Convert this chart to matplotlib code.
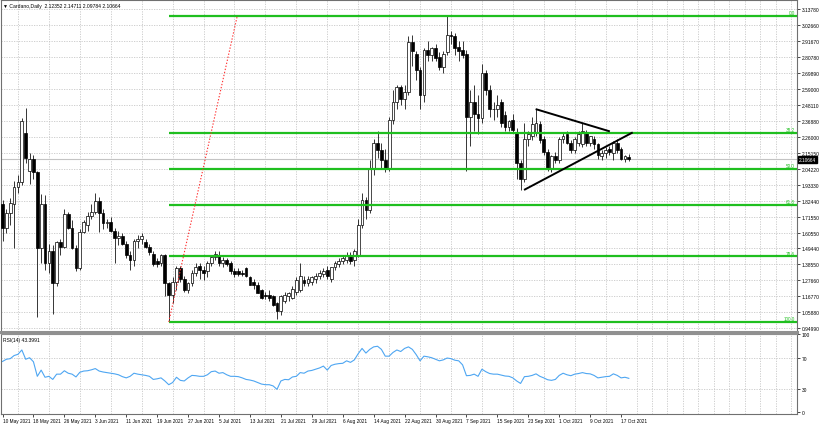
import numpy as np
import pandas as pd
import matplotlib
matplotlib.use('Agg')
import matplotlib.pyplot as plt
import matplotlib.transforms as mtransforms

# ---- data ----
dates = pd.date_range('2021-05-10', periods=163, freq='D')

opens = [1.80, 1.64, 1.74, 1.80, 1.92, 1.95, 2.29, 2.03, 2.11, 2.02,
         1.50, 1.80, 1.40, 1.48, 1.26, 1.54, 1.51, 1.73, 1.64, 1.50,
         1.36, 1.61, 1.66, 1.72, 1.75, 1.82, 1.74, 1.67, 1.68, 1.62,
         1.57, 1.58, 1.53, 1.45, 1.42, 1.55, 1.56, 1.54, 1.51, 1.46,
         1.41, 1.40, 1.45, 1.26, 1.18, 1.27, 1.36, 1.29, 1.21, 1.26,
         1.33, 1.38, 1.35, 1.34, 1.40, 1.44, 1.45, 1.40, 1.42, 1.40,
         1.34, 1.34, 1.33, 1.36, 1.30, 1.27, 1.25, 1.21, 1.18, 1.18,
         1.17, 1.12, 1.07, 1.14, 1.17, 1.16, 1.20, 1.21, 1.28, 1.26,
         1.27, 1.29, 1.31, 1.32, 1.35, 1.29, 1.37, 1.39, 1.41, 1.42,
         1.45, 1.42, 1.45, 1.66, 1.83, 1.76, 2.05, 2.22, 2.17, 2.10,
         2.05, 2.38, 2.50, 2.60, 2.52, 2.57, 2.91, 2.83, 2.72, 2.55,
         2.86, 2.82, 2.87, 2.81, 2.74, 2.84, 2.96, 2.95, 2.88, 2.86,
         2.83, 2.40, 2.50, 2.42, 2.39, 2.70, 2.58, 2.45, 2.45, 2.50,
         2.41, 2.33, 2.38, 2.29, 2.08, 1.97, 2.25, 2.27, 2.29, 2.35,
         2.25, 2.16, 2.04, 2.13, 2.10, 2.25, 2.28, 2.22, 2.17, 2.22,
         2.21, 2.29, 2.22, 2.25, 2.21, 2.13, 2.15, 2.18, 2.15, 2.22,
         2.18, 2.11, 2.12352]
highs = [1.83, 1.77, 1.84, 1.96, 2.00, 2.39, 2.46, 2.15, 2.14, 2.03,
         1.87, 1.86, 1.53, 1.52, 1.55, 1.56, 1.77, 1.75, 1.69, 1.52,
         1.63, 1.69, 1.75, 1.80, 1.88, 1.85, 1.77, 1.70, 1.71, 1.64,
         1.62, 1.60, 1.55, 1.48, 1.56, 1.59, 1.60, 1.56, 1.53, 1.48,
         1.43, 1.46, 1.46, 1.27, 1.30, 1.38, 1.38, 1.31, 1.27, 1.35,
         1.40, 1.40, 1.38, 1.41, 1.45, 1.48, 1.48, 1.44, 1.43, 1.41,
         1.36, 1.36, 1.35, 1.37, 1.31, 1.29, 1.27, 1.22, 1.20, 1.21,
         1.18, 1.13, 1.18, 1.20, 1.20, 1.24, 1.30, 1.40, 1.31, 1.31,
         1.31, 1.33, 1.35, 1.36, 1.38, 1.37, 1.41, 1.43, 1.45, 1.47,
         1.47, 1.49, 1.70, 1.88, 1.85, 2.10, 2.25, 2.30, 2.22, 2.18,
         2.40, 2.58, 2.62, 2.62, 2.62, 2.95, 2.96, 2.85, 2.74, 2.87,
         2.92, 2.88, 2.90, 2.84, 2.85, 3.10, 2.99, 2.97, 2.92, 2.92,
         2.86, 2.58, 2.62, 2.55, 2.76, 2.72, 2.62, 2.50, 2.55, 2.52,
         2.44, 2.38, 2.42, 2.32, 2.10, 2.36, 2.30, 2.40, 2.45, 2.37,
         2.27, 2.18, 2.14, 2.16, 2.26, 2.29, 2.30, 2.24, 2.26, 2.30,
         2.36, 2.31, 2.27, 2.27, 2.22, 2.17, 2.19, 2.20, 2.23, 2.25,
         2.19, 2.14, 2.14711]
lows = [1.55, 1.60, 1.66, 1.50, 1.88, 1.93, 2.08, 1.94, 1.97, 1.03,
        1.40, 1.35, 1.33, 1.05, 1.24, 1.45, 1.50, 1.63, 1.49, 1.34,
        1.35, 1.60, 1.62, 1.70, 1.73, 1.61, 1.63, 1.64, 1.61, 1.40,
        1.52, 1.52, 1.43, 1.35, 1.38, 1.50, 1.53, 1.50, 1.45, 1.38,
        1.37, 1.38, 1.17, 1.00, 1.12, 1.21, 1.27, 1.20, 1.19, 1.24,
        1.31, 1.29, 1.28, 1.30, 1.38, 1.42, 1.38, 1.37, 1.38, 1.32,
        1.30, 1.31, 1.31, 1.30, 1.25, 1.22, 1.19, 1.15, 1.15, 1.14,
        1.10, 1.016, 1.04, 1.12, 1.14, 1.15, 1.18, 1.20, 1.24, 1.24,
        1.25, 1.26, 1.29, 1.30, 1.29, 1.27, 1.35, 1.37, 1.39, 1.40,
        1.39, 1.38, 1.44, 1.64, 1.70, 1.74, 2.00, 2.12, 2.05, 2.02,
        2.03, 2.35, 2.45, 2.48, 2.45, 2.55, 2.75, 2.65, 2.45, 2.50,
        2.78, 2.78, 2.78, 2.72, 2.70, 2.82, 2.90, 2.82, 2.78, 2.80,
        2.03, 2.20, 2.30, 2.28, 2.36, 2.55, 2.40, 2.38, 2.40, 2.33,
        2.30, 2.30, 2.29, 1.97, 1.90, 1.95, 2.20, 2.24, 2.27, 2.22,
        2.14, 2.03, 2.02, 2.08, 2.08, 2.22, 2.21, 2.15, 2.15, 2.20,
        2.19, 2.20, 2.20, 2.18, 2.11, 2.10, 2.12, 2.14, 2.10, 2.15,
        2.10, 2.09, 2.09784]
closes = [1.64, 1.74, 1.81, 1.92, 1.95, 2.37, 2.12, 2.11, 2.02, 1.50,
          1.80, 1.40, 1.48, 1.26, 1.54, 1.51, 1.73, 1.64, 1.50, 1.36,
          1.61, 1.68, 1.72, 1.75, 1.82, 1.74, 1.67, 1.68, 1.62, 1.57,
          1.58, 1.53, 1.45, 1.42, 1.55, 1.56, 1.58, 1.51, 1.47, 1.39,
          1.39, 1.45, 1.26, 1.18, 1.27, 1.36, 1.29, 1.21, 1.26, 1.33,
          1.37, 1.35, 1.33, 1.40, 1.44, 1.46, 1.40, 1.42, 1.39, 1.34,
          1.32, 1.32, 1.32, 1.31, 1.25, 1.25, 1.19, 1.16, 1.17, 1.16,
          1.11, 1.07, 1.17, 1.18, 1.19, 1.22, 1.28, 1.31, 1.26, 1.29,
          1.30, 1.31, 1.33, 1.34, 1.31, 1.37, 1.40, 1.41, 1.43, 1.45,
          1.41, 1.48, 1.66, 1.83, 1.76, 2.05, 2.22, 2.17, 2.10, 2.05,
          2.38, 2.50, 2.60, 2.52, 2.57, 2.91, 2.85, 2.72, 2.55, 2.86,
          2.82, 2.87, 2.80, 2.74, 2.83, 2.96, 2.95, 2.87, 2.85, 2.82,
          2.40, 2.50, 2.42, 2.39, 2.70, 2.58, 2.45, 2.45, 2.48, 2.36,
          2.33, 2.37, 2.31, 2.08, 1.97, 2.25, 2.28, 2.35, 2.36, 2.24,
          2.16, 2.04, 2.13, 2.10, 2.25, 2.27, 2.22, 2.17, 2.25, 2.28,
          2.30, 2.22, 2.27, 2.21, 2.14, 2.15, 2.17, 2.16, 2.22, 2.17,
          2.11, 2.13, 2.10664]

rsi = [65.2, 68.0, 68.8, 72.8, 74.4, 80.0, 68.0, 70.0, 64.8, 46.0,
       54.0, 44.8, 46.0, 42.0, 48.8, 48.8, 53.2, 50.0, 48.8, 45.2,
       51.2, 52.8, 53.2, 54.4, 56.0, 52.8, 51.6, 50.8, 50.0, 49.2,
       48.0, 45.6, 44.0, 46.0, 50.0, 48.8, 48.0, 47.2, 46.0, 42.0,
       42.8, 44.0, 40.0, 35.2, 38.0, 44.8, 40.8, 40.0, 44.0, 47.2,
       46.8, 46.0, 46.0, 48.0, 52.0, 52.8, 50.0, 50.8, 48.0, 46.0,
       46.0, 45.6, 44.0, 42.0, 41.2, 40.0, 38.0, 36.0, 35.2, 35.2,
       33.6, 29.2, 40.0, 42.0, 41.6, 45.2, 46.0, 50.8, 50.0, 52.8,
       53.6, 55.2, 56.8, 59.2, 54.0, 60.0, 61.6, 62.4, 62.8, 66.0,
       64.0, 67.2, 75.2, 82.0, 76.0, 80.8, 84.0, 84.8, 80.8, 72.0,
       72.0, 76.8, 80.0, 78.0, 82.0, 84.0, 80.8, 74.0, 66.0, 72.0,
       71.2, 70.0, 68.0, 66.0, 67.2, 69.6, 68.8, 66.8, 66.0, 60.8,
       46.8, 47.2, 48.8, 46.0, 55.2, 52.0, 49.6, 48.8, 48.8, 47.6,
       46.4, 46.0, 44.0, 40.0, 36.8, 45.6, 46.0, 47.2, 49.2, 46.0,
       44.0, 41.6, 40.8, 42.0, 47.2, 50.0, 48.0, 46.8, 48.8, 49.6,
       50.8, 49.6, 49.2, 47.2, 44.0, 44.8, 45.6, 46.0, 49.2, 47.2,
       44.0, 44.8, 43.4]

price_ticks = ['0.94990', '1.05880', '1.16770', '1.27660', '1.38550', '1.49440',
               '1.60550', '1.71550', '1.82440', '1.93330', '2.04220', '2.15150',
               '2.26000', '2.36880', '2.48110', '2.59000', '2.69890', '2.80780',
               '2.91670', '3.02660', '3.13780']

fib_names = ['0.0', '38.2', '50.0', '61.8', '78.6', '100.0']
fib_values = [3.088, 2.289, 2.040, 1.794, 1.442, 0.993]
fib_start = 43

# fib anchor line (low -> high) and triangle trend lines: (day, price)
fib_anchor = [(43, 0.993), (60.7, 3.088)]
tri_upper = [(137.9, 2.452), (157.1, 2.299)]
tri_lower = [(134.9, 1.898), (163.0, 2.292)]

last_price = 2.10664

# ---- figure ----
W, H = 820, 427
fig = plt.figure(figsize=(W / 100, H / 100), dpi=100)
plt.rcParams['font.family'] = ['Liberation Sans', 'DejaVu Sans']


def box(x0, y0, x1, y1):
    return [x0 / W, 1 - y1 / H, (x1 - x0) / W, (y1 - y0) / H]


ax = fig.add_axes(box(1, 1, 797, 333))
axr = fig.add_axes(box(1, 335, 797, 415), sharex=ax)

x = np.arange(len(dates))
grid_kw = dict(color='#c8c8c8', linestyle=(0, (1.5, 1.5)), linewidth=0.6)

for a in (ax, axr):
    a.set_xlim(-0.39, 205.5)
    a.set_xticks(np.arange(0, 206, 4), minor=True)
    a.grid(True, which='minor', axis='x', **grid_kw)
    a.yaxis.tick_right()
    a.tick_params(axis='y', which='both', labelsize=3.5, length=2, width=0.5,
                  pad=1.2, colors='black')
    for s in a.spines.values():
        s.set_color('#707070')
        s.set_linewidth(0.8)
    a.set_axisbelow(True)

# price panel
ax.set_ylim(0.9246, 3.1995)
tick_pos = np.linspace(0.9499, 3.1378, len(price_ticks))
ax.set_yticks(tick_pos)
ax.set_yticklabels(price_ticks)
for tp in tick_pos:
    ax.axhline(tp, zorder=0, **grid_kw)
ax.tick_params(axis='x', which='both', bottom=False, labelbottom=False)
ax.spines['bottom'].set_linewidth(2.2)
ax.spines['bottom'].set_color('#909090')

ax.axhline(last_price, color='#c4c4c4', linewidth=0.8, zorder=1)

o = np.array(opens)
c = np.array(closes)
up = c >= o
ax.vlines(x, lows, highs, color='black', linewidth=0.55, zorder=3)
ax.bar(x[up], (c - o)[up], bottom=o[up], width=0.72, color='white',
       edgecolor='black', linewidth=0.5, zorder=4)
ax.bar(x[~up], (c - o)[~up], bottom=o[~up], width=0.72, color='black',
       edgecolor='black', linewidth=0.5, zorder=4)

# fibonacci levels
xmax = ax.get_xlim()[1]
for name, lvl in zip(fib_names, fib_values):
    ax.hlines(lvl, fib_start, xmax, color='#1fbf1f', linewidth=1.6, zorder=5)
    ax.text(xmax - 0.6, lvl + 0.006, name, color='#1fbf1f', fontsize=3.3,
            ha='right', va='bottom', zorder=6)
ax.plot([p[0] for p in fib_anchor], [p[1] for p in fib_anchor],
        color='#ff3030', linestyle=(0, (1.2, 1.6)), linewidth=0.8, zorder=5)

# triangle
for seg in (tri_upper, tri_lower):
    ax.plot([p[0] for p in seg], [p[1] for p in seg], color='black',
            linewidth=1.4, zorder=6, solid_capstyle='butt')

ax.text(0.002, 0.992, '\u25bc Cardano,Daily  2.12352 2.14711 2.09784 2.10664',
        transform=ax.transAxes, fontsize=3.6, va='top', ha='left')

# last price tag on the axis
tr = mtransforms.blended_transform_factory(ax.transAxes, ax.transData)
ax.text(1.002, last_price, '2.10664', transform=tr, fontsize=3.4, color='white',
        va='center', ha='left', clip_on=False, zorder=10,
        bbox=dict(boxstyle='square,pad=0.2', facecolor='black', edgecolor='black'))

# RSI panel
axr.set_ylim(-2.6, 100.6)
axr.set_yticks([0, 30, 70, 100])
axr.set_yticklabels(['0', '30', '70', '100'])
axr.axhline(70, zorder=0, **grid_kw)
axr.axhline(30, zorder=0, **grid_kw)
axr.plot(x, rsi, color='#4ea6f2', linewidth=0.8)
axr.text(0.003, 0.96, 'RSI(14) 43.3991', transform=axr.transAxes, fontsize=3.6,
         va='top', ha='left')
axr.spines['top'].set_color('#909090')

major = np.arange(0, 161, 8)
axr.set_xticks(major)
axr.set_xticklabels([f'{dates[i].day} {dates[i].strftime("%b %Y")}' for i in major],
                    ha='left')
axr.tick_params(axis='x', which='major', labelsize=3.4, length=2, width=0.5, pad=1.2)
axr.tick_params(axis='x', which='minor', length=0)

fig.savefig('out.png', dpi=100)
